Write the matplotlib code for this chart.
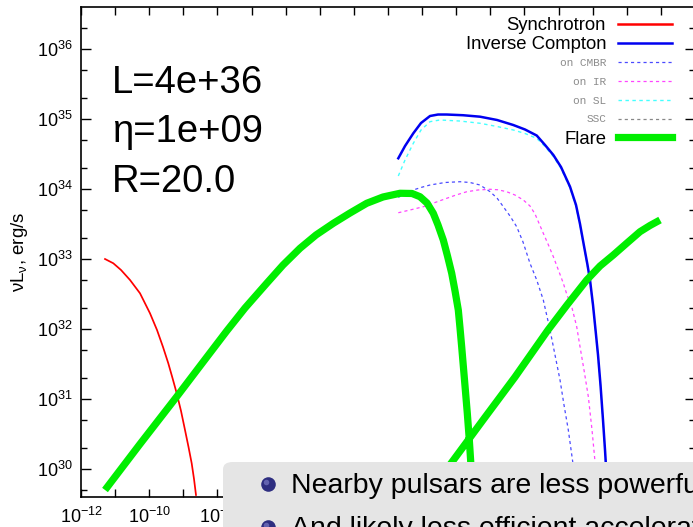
import numpy as np
import matplotlib
matplotlib.use("Agg")
import matplotlib.pyplot as plt
from matplotlib.lines import Line2D
from matplotlib.patches import FancyBboxPatch
from matplotlib.ticker import FixedLocator, FuncFormatter

plt.rcParams['font.family'] = ['Liberation Sans', 'DejaVu Sans']
plt.rcParams['mathtext.fontset'] = 'custom'
plt.rcParams['mathtext.rm'] = 'Liberation Sans'
plt.rcParams['mathtext.it'] = 'Liberation Sans:italic'
plt.rcParams['mathtext.bf'] = 'Liberation Sans:bold'

# ---------------- data (log10 values) ----------------
sync_logE = [-11.296, -11.053, -10.827, -10.563, -10.270, -9.977, -9.772, -9.596,
             -9.441, -9.318, -9.194, -9.068, -8.951, -8.848, -8.755, -8.687, -8.629]
sync_logL = [33.002, 32.941, 32.845, 32.702, 32.512, 32.226, 31.988, 31.745,
             31.512, 31.302, 31.083, 30.831, 30.559, 30.316, 30.083, 29.859, 29.631]

ic_logE = [-2.698, -2.501, -2.258, -2.032, -1.768, -1.534, -1.279, -0.801, -0.302,
           0.196, 0.674, 1.017, 1.360, 1.603, 1.847, 2.072, 2.336, 2.512, 2.629,
           2.746, 2.849, 2.922, 3.010, 3.084, 3.157, 3.230, 3.303, 3.362, 3.406,
           3.435, 3.450]
ic_logL = [34.441, 34.616, 34.798, 34.945, 35.045, 35.066, 35.066, 35.056, 35.035,
           34.988, 34.916, 34.852, 34.766, 34.631, 34.488, 34.316, 34.035, 33.773,
           33.502, 33.188, 32.916, 32.702, 32.345, 31.988, 31.631, 31.202, 30.702,
           30.273, 29.916, 29.602, 29.488]

cmbr_logE = [-2.698, -2.501, -2.258, -2.032, -1.768, -1.329, -0.889, -0.596, -0.302,
             -0.009, 0.196, 0.381, 0.577, 0.773, 0.958, 1.163, 1.360, 1.553, 1.750,
             1.896, 2.043, 2.160, 2.286, 2.415, 2.497, 2.510]
cmbr_logL = [33.883, 33.931, 33.988, 34.024, 34.059, 34.095, 34.106, 34.095, 34.059,
             33.964, 33.873, 33.749, 33.616, 33.463, 33.245, 32.940, 32.702, 32.416,
             31.988, 31.631, 31.273, 30.916, 30.559, 30.106, 29.602, 29.490]

ir_logE = [-2.698, -2.355, -1.965, -1.622, -1.279, -1.006, -0.692, -0.361, -0.009,
           0.225, 0.480, 0.723, 0.967, 1.163, 1.310, 1.553, 1.691, 1.847, 1.984,
           2.140, 2.248, 2.386, 2.532, 2.629, 2.746, 2.873, 2.981, 3.069, 3.127, 3.140]
ir_logL = [33.663, 33.702, 33.749, 33.809, 33.869, 33.916, 33.963, 33.988, 33.998,
           33.991, 33.963, 33.916, 33.845, 33.759, 33.645, 33.369, 33.216, 33.035,
           32.859, 32.655, 32.488, 32.321, 32.035, 31.749, 31.416, 31.035, 30.559,
           30.106, 29.602, 29.490]

sl_logE = [-2.698, -2.501, -2.258, -2.032, -1.768, -1.475, -0.889, -0.302, 0.196,
           0.674, 1.017, 1.360, 1.603, 1.847, 2.072, 2.336, 2.512, 2.629, 2.746,
           2.849, 2.922, 3.010, 3.084, 3.157, 3.230, 3.303, 3.362, 3.406, 3.435]
sl_logL = [34.188, 34.416, 34.655, 34.845, 34.964, 34.988, 34.973, 34.941, 34.895,
           34.845, 34.795, 34.726, 34.609, 34.466, 34.295, 34.016, 33.752, 33.481,
           33.166, 32.895, 32.681, 32.324, 31.966, 31.609, 31.181, 30.681, 30.252,
           29.895, 29.581]

flare_logE = [-11.296, -10.270, -9.194, -8.511, -7.729, -7.192, -6.556, -6.078,
              -5.580, -5.111, -4.603, -4.114, -3.624, -3.146, -2.648, -2.296, -2.062,
              -1.856, -1.672, -1.534, -1.379, -1.256, -1.132, -1.035, -0.939, -0.889,
              -0.840, -0.757, -0.675, -0.616, -0.575, -0.537,
              np.nan,
              -1.974, -1.123, -0.215, 0.723, 1.691, 2.248, 2.826, 3.216, 3.605,
              4.007, 4.388, 4.682, 4.975]
flare_logL = [29.702, 30.359, 31.035, 31.473, 31.973, 32.302, 32.655, 32.916,
              33.155, 33.345, 33.512, 33.659, 33.798, 33.888, 33.941, 33.938, 33.892,
              33.802, 33.655, 33.488, 33.273, 33.045, 32.798, 32.545, 32.273, 32.016,
              31.749, 31.273, 30.798, 30.416, 30.106, 29.559,
              np.nan,
              29.545, 30.102, 30.702, 31.316, 31.988, 32.345, 32.702, 32.902, 33.059,
              33.231, 33.392, 33.481, 33.559]

x_tick_exps = list(range(-12, 7))
x_label_exps = [-12, -10, -8]
y_tick_exps = list(range(30, 37))
param_lines = ["L=4e+36", "η=1e+09", "R=20.0"]
bullets = ["Nearby pulsars are less powerful", "And likely less efficient acceleration"]

W, H = 693, 527
fig = plt.figure(figsize=(W / 100, H / 100), dpi=100)

def fx(px):
    return px / W

def fy(py):
    return 1 - py / H

ax = fig.add_axes([fx(81), fy(497), (695 - 81) / W, (497 - 7) / H])
ax.set_xscale('log')
ax.set_yscale('log')
ax.set_xlim(1e-12, 1e6)
ax.set_ylim(4e29, 4e36)

def P(a):
    return np.power(10.0, np.asarray(a, dtype=float))

DASH = (0, (2.5, 2.5))
ax.plot(P(sync_logE), P(sync_logL), color='#ff0000', lw=1.25)
ax.plot(P(cmbr_logE), P(cmbr_logL), color='#4a4aff', lw=0.9, ls=DASH)
ax.plot(P(ir_logE), P(ir_logL), color='#ff44ff', lw=0.9, ls=DASH)
ax.plot(P(sl_logE), P(sl_logL), color='#44ffff', lw=1.0, ls=DASH)
ax.plot(P(ic_logE), P(ic_logL), color='#0000f0', lw=1.8)
ax.plot(P(flare_logE), P(flare_logL), color='#00ee00', lw=5.2, solid_capstyle='butt',
        solid_joinstyle='round')

# ticks
ax.xaxis.set_major_locator(FixedLocator([10.0 ** e for e in x_tick_exps]))
ax.xaxis.set_minor_locator(FixedLocator([]))
ax.xaxis.set_major_formatter(FuncFormatter(
    lambda v, p: (r'$\mathdefault{10^{%d}}$' % round(np.log10(v)))
    if round(np.log10(v)) in x_label_exps else ''))
ax.yaxis.set_major_locator(FixedLocator([10.0 ** e for e in y_tick_exps]))
ax.yaxis.set_minor_locator(FixedLocator([m * 10.0 ** e for e in range(29, 37) for m in (2, 5)]))
ax.yaxis.set_major_formatter(FuncFormatter(
    lambda v, p: r'$\mathdefault{10^{%d}}$' % round(np.log10(v))))
ax.yaxis.set_minor_formatter(FuncFormatter(lambda v, p: ''))
ax.tick_params(axis='both', which='both', direction='in', top=True, right=True,
               labelsize=13, width=1.0, color='black')
ax.tick_params(axis='x', which='major', length=6, pad=7)
ax.tick_params(axis='y', which='major', length=7, pad=6)
ax.tick_params(axis='y', which='minor', length=4.5)
for s in ax.spines.values():
    s.set_linewidth(1.2)

fig.text(fx(20), fy(252), "νL$_\\mathregular{ν}$, erg/s", rotation=90,
         ha='center', va='center', fontsize=13.5)

# parameter text
for i, t in enumerate(param_lines):
    fig.text(fx(112), fy(93 + 49.5 * i), t, fontsize=27.5, ha='left', va='baseline')

# legend (gnuplot style, drawn by hand)
leg_rows = [
    ("Synchrotron", dict(color='#ff0000', lw=1.8), 'big'),
    ("Inverse Compton", dict(color='#0000f0', lw=1.8), 'big'),
    ("on CMBR", dict(color='#4a4aff', lw=0.9, ls=DASH), 'small'),
    ("on IR", dict(color='#ff44ff', lw=0.9, ls=DASH), 'small'),
    ("on SL", dict(color='#44ffff', lw=1.0, ls=DASH), 'small'),
    ("SSC", dict(color='#888888', lw=0.9, ls=DASH), 'small'),
    ("Flare", dict(color='#00ee00', lw=5.2), 'big'),
]
for i, (lab, sty, kind) in enumerate(leg_rows):
    yc = 24 + 18.9 * i
    if kind == 'big':
        fig.text(fx(606), fy(yc), lab, ha='right', va='center_baseline', fontsize=13.3)
    else:
        fig.text(fx(606), fy(yc), lab, ha='right', va='center_baseline', fontsize=8,
                 family='Liberation Mono', color='#8c8c8c')
    fig.add_artist(Line2D([fx(618), fx(672)], [fy(yc), fy(yc)], **sty))

# overlay (slide box)
box = FancyBboxPatch((fx(223), fy(560)), fx(520), 98 / H,
                     boxstyle="round,pad=0,rounding_size=0.014",
                     transform=fig.transFigure, facecolor='#e5e5e5',
                     edgecolor='none', zorder=10)
fig.add_artist(box)
for i, t in enumerate(bullets):
    yb = 493 + 43 * i
    fig.add_artist(Line2D([fx(268)], [fy(yb - 9)], transform=fig.transFigure,
                          marker='o', markersize=10.5, color='#2e2e80',
                          markeredgewidth=0, zorder=11))
    fig.add_artist(Line2D([fx(266)], [fy(yb - 11)], transform=fig.transFigure,
                          marker='o', markersize=4, color='#7a7ac4', alpha=0.7,
                          markeredgewidth=0, zorder=11.5))
    fig.text(fx(291), fy(yb), t, fontsize=20.5, ha='left', va='baseline', zorder=12)

fig.savefig("out.png", dpi=100)
